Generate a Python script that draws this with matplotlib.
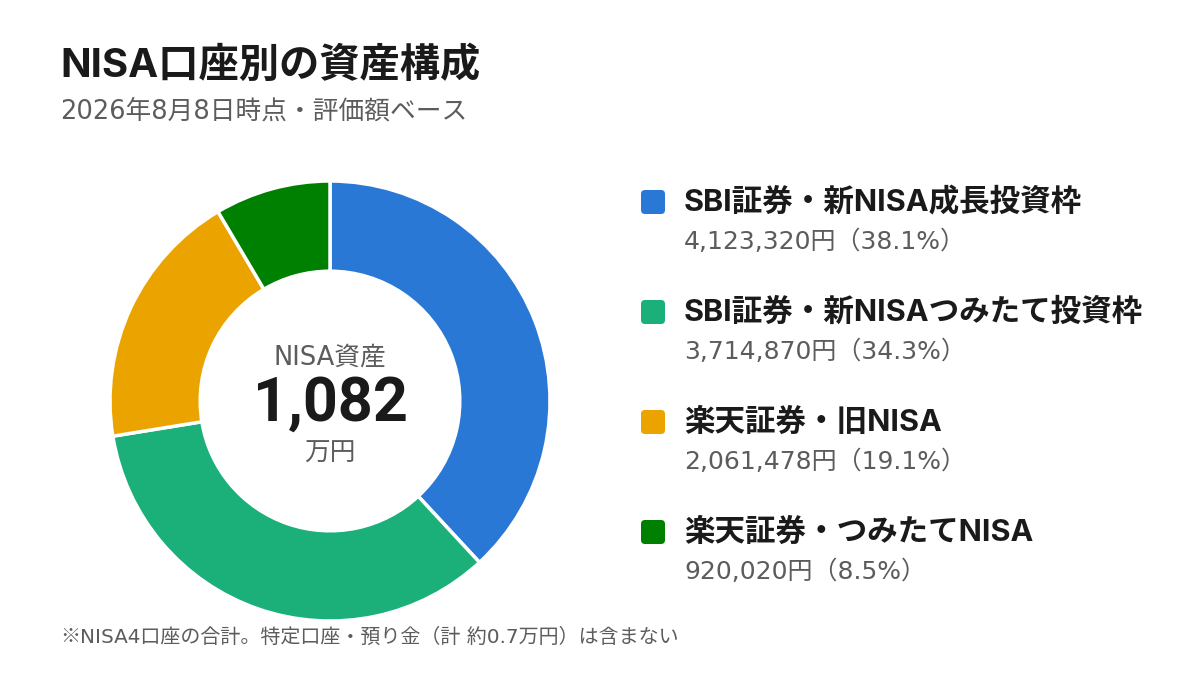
import matplotlib
matplotlib.use('Agg')
import matplotlib.pyplot as plt
from matplotlib.patches import FancyBboxPatch

bold_fonts = ['Inter', 'Noto Sans CJK JP', 'DejaVu Sans']
reg_fonts = ['DejaVu Sans', 'Noto Sans CJK JP']
plt.rcParams['font.family'] = reg_fonts

# データ
labels = ['SBI証券・新NISA成長投資枠', 'SBI証券・新NISAつみたて投資枠',
          '楽天証券・旧NISA', '楽天証券・つみたてNISA']
values = [4123320, 3714870, 2061478, 920020]
colors = ['#2A78D6', '#1BAF7A', '#EBA300', '#008000']

title = 'NISA口座別の資産構成'
subtitle = '2026年8月8日時点・評価額ベース'
center_label = 'NISA資産'
center_unit = '万円'
note_mark = '※'
footnote = 'NISA4口座の合計。特定口座・預り金（計 約0.7万円）は含まない'

total = sum(values)
gray = '#5c5c5c'

fig = plt.figure(figsize=(12, 6.75), dpi=100)
fig.patch.set_facecolor('white')

# ドーナツ
ax = fig.add_axes([110 / 1200, 54 / 675, 440 / 1200, 440 / 675])
ax.pie(values, colors=colors, startangle=90, counterclock=False, radius=1,
       wedgeprops=dict(width=0.41, edgecolor='white', linewidth=2.5))
ax.set_xlim(-1, 1)
ax.set_ylim(-1, 1)
ax.set_aspect('equal')
ax.axis('off')

ax.text(0, 0.20, center_label, ha='center', va='center', fontsize=18.5, color=gray)
ax.text(0, -0.01, f'{round(total / 10000):,}', ha='center', va='center',
        fontsize=44, fontweight='bold', color='#1a1a1a', family=['Roboto', 'DejaVu Sans'])
ax.text(0, -0.24, center_unit, ha='center', va='center', fontsize=18.5, color=gray)

# テキスト用のオーバーレイ (ピクセル座標)
ov = fig.add_axes([0, 0, 1, 1])
ov.set_xlim(0, 1200)
ov.set_ylim(675, 0)
ov.axis('off')

ov.text(60, 66, title, ha='left', va='center', fontsize=29, fontweight='bold',
        color='#1a1a1a', family=bold_fonts)
ov.text(60, 112, subtitle, ha='left', va='center', fontsize=18.5, color=gray)

for i, (lab, v, c) in enumerate(zip(labels, values, colors)):
    y = 202 + i * 110
    sq = FancyBboxPatch((641, y - 12), 24, 24, boxstyle='round,pad=0,rounding_size=4',
                        facecolor=c, edgecolor='none')
    ov.add_patch(sq)
    ov.text(684, y, lab, ha='left', va='center', fontsize=22, fontweight='bold',
            color='#1a1a1a', family=bold_fonts)
    ov.text(684, y + 40, f'{v:,}円（{v / total * 100:.1f}%）', ha='left', va='center',
            fontsize=18, color=gray)

# 注記: ※ は CJK フォントで
mark = ov.text(60, 637, note_mark, ha='left', va='center', fontsize=14.4, color=gray,
               family=['Noto Sans CJK JP'])
fig.canvas.draw()
bb = mark.get_window_extent(fig.canvas.get_renderer())
x_next = ov.transData.inverted().transform((bb.x1, 0))[0]
ov.text(x_next, 637, footnote, ha='left', va='center', fontsize=14.4, color=gray)

fig.savefig('out.png', dpi=100, facecolor='white')
